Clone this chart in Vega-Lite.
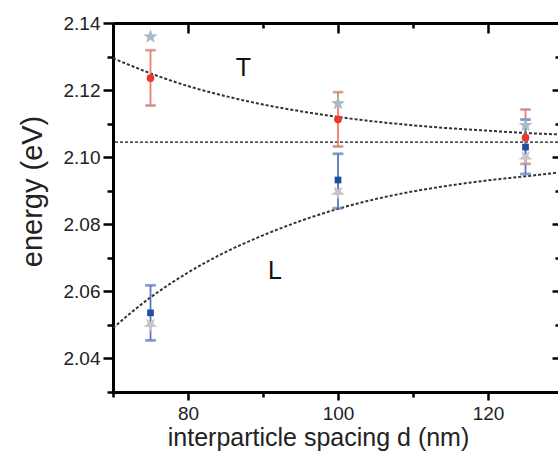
{
  "$schema": "https://vega.github.io/schema/vega-lite/v6.json",
  "autosize": {"type": "none"},
  "padding": {"left": 113, "top": 23, "right": 0, "bottom": 66},
  "width": 445,
  "height": 369,
  "background": "white",
  "config": {
    "view": {"stroke": null},
    "axis": {
      "grid": false,
      "labelFont": "Liberation Sans",
      "titleFont": "Liberation Sans",
      "labelColor": "#222",
      "titleColor": "#222",
      "titleFontWeight": "normal",
      "labelFontSize": 19,
      "domainColor": "#000",
      "domainWidth": 3,
      "tickColor": "#000",
      "tickWidth": 2.5
    }
  },
  "datasets": {
    "curves": [
      {"d": 70, "E": 2.1295, "curve": "T"},
      {"d": 75, "E": 2.1250, "curve": "T"},
      {"d": 80, "E": 2.1212, "curve": "T"},
      {"d": 85, "E": 2.1182, "curve": "T"},
      {"d": 90, "E": 2.1157, "curve": "T"},
      {"d": 95, "E": 2.1137, "curve": "T"},
      {"d": 100, "E": 2.1120, "curve": "T"},
      {"d": 105, "E": 2.1106, "curve": "T"},
      {"d": 110, "E": 2.1095, "curve": "T"},
      {"d": 115, "E": 2.1086, "curve": "T"},
      {"d": 120, "E": 2.1079, "curve": "T"},
      {"d": 125, "E": 2.1072, "curve": "T"},
      {"d": 129.33, "E": 2.1068, "curve": "T"},
      {"d": 70, "E": 2.0491, "curve": "L"},
      {"d": 75, "E": 2.0582, "curve": "L"},
      {"d": 80, "E": 2.0656, "curve": "L"},
      {"d": 85, "E": 2.0717, "curve": "L"},
      {"d": 90, "E": 2.0767, "curve": "L"},
      {"d": 95, "E": 2.0810, "curve": "L"},
      {"d": 100, "E": 2.0846, "curve": "L"},
      {"d": 105, "E": 2.0875, "curve": "L"},
      {"d": 110, "E": 2.0898, "curve": "L"},
      {"d": 115, "E": 2.0916, "curve": "L"},
      {"d": 120, "E": 2.0931, "curve": "L"},
      {"d": 125, "E": 2.0943, "curve": "L"},
      {"d": 129.33, "E": 2.0954, "curve": "L"}
    ],
    "meas": [
      {"d": 75, "E": 2.1236, "lo": 2.1154, "hi": 2.1319, "series": "T"},
      {"d": 100, "E": 2.1113, "lo": 2.1032, "hi": 2.1194, "series": "T"},
      {"d": 125, "E": 2.1058, "lo": 2.0980, "hi": 2.1142, "series": "T"},
      {"d": 75, "E": 2.0536, "lo": 2.0454, "hi": 2.0618, "series": "L"},
      {"d": 100, "E": 2.0932, "lo": 2.0848, "hi": 2.1010, "series": "L"},
      {"d": 125, "E": 2.1030, "lo": 2.0950, "hi": 2.1112, "series": "L"}
    ],
    "sim": [
      {"d": 75, "E": 2.1359, "series": "T sim"},
      {"d": 100, "E": 2.1160, "series": "T sim"},
      {"d": 125, "E": 2.1095, "series": "T sim"},
      {"d": 75, "E": 2.0501, "series": "L sim"},
      {"d": 100, "E": 2.0895, "series": "L sim"},
      {"d": 125, "E": 2.1000, "series": "L sim"}
    ],
    "caps": [
      {"d": 75, "E": 2.1154, "series": "T"},
      {"d": 75, "E": 2.1319, "series": "T"},
      {"d": 100, "E": 2.1032, "series": "T"},
      {"d": 100, "E": 2.1194, "series": "T"},
      {"d": 125, "E": 2.0980, "series": "T"},
      {"d": 125, "E": 2.1142, "series": "T"},
      {"d": 75, "E": 2.0454, "series": "L"},
      {"d": 75, "E": 2.0618, "series": "L"},
      {"d": 100, "E": 2.0848, "series": "L"},
      {"d": 100, "E": 2.1010, "series": "L"},
      {"d": 125, "E": 2.0950, "series": "L"},
      {"d": 125, "E": 2.1112, "series": "L"}
    ],
    "labels": [
      {"d": 87.4, "E": 2.1267, "label": "T"},
      {"d": 91.6, "E": 2.0660, "label": "L"}
    ],
    "ref": [{"E": 2.1045}]
  },
  "resolve": {"axis": {"x": "independent", "y": "independent"}},
  "layer": [
    {
      "data": {"name": "ref"},
      "mark": {"type": "rule", "color": "#555", "strokeWidth": 1.6, "strokeDash": [3, 2]},
      "encoding": {
        "y": {"field": "E", "type": "quantitative", "scale": {"domain": [2.03, 2.14], "nice": false, "zero": false}, "axis": null}
      }
    },
    {
      "data": {"name": "curves"},
      "mark": {"type": "line", "color": "#333", "strokeWidth": 2, "strokeDash": [3, 2], "interpolate": "monotone", "clip": true},
      "encoding": {
        "x": {"field": "d", "type": "quantitative", "scale": {"domain": [70, 129.33], "nice": false, "zero": false},
          "axis": {"orient": "bottom", "values": [80, 100, 120], "format": "d", "tickSize": 8, "labelPadding": 4,
            "title": "interparticle spacing d (nm)", "titleFontSize": 25, "titleX": 205, "titleY": 33, "titleBaseline": "top", "titleAlign": "center"}},
        "y": {"field": "E", "type": "quantitative", "scale": {"domain": [2.03, 2.14], "nice": false, "zero": false},
          "axis": {"orient": "left", "values": [2.04, 2.06, 2.08, 2.1, 2.12, 2.14], "format": ".2f", "tickSize": 10, "labelPadding": 3,
            "title": "energy (eV)", "titleFontSize": 29, "titleX": -95, "titleY": 168, "titleAngle": -90, "titleBaseline": "top", "titleAlign": "center"}},
        "detail": {"field": "curve"}
      }
    },
    {
      "data": {"name": "meas"},
      "mark": {"type": "rule", "strokeWidth": 1.8},
      "encoding": {
        "x": {"field": "d", "type": "quantitative",
          "axis": {"orient": "bottom", "values": [70, 90, 110], "labels": false, "domain": false, "tickSize": 5, "title": null}},
        "y": {"field": "lo", "type": "quantitative",
          "axis": {"orient": "left", "values": [2.03, 2.05, 2.07, 2.09, 2.11, 2.13], "labels": false, "domain": false, "tickSize": 6, "title": null}},
        "y2": {"field": "hi"},
        "stroke": {"field": "series", "type": "nominal", "scale": {"domain": ["T", "L"], "range": ["#f07d6e", "#5b77b6"]}, "legend": null}
      }
    },
    {
      "data": {"name": "caps"},
      "mark": {"type": "tick", "orient": "horizontal", "size": 10, "thickness": 1.8},
      "encoding": {
        "x": {"field": "d", "type": "quantitative",
          "axis": {"orient": "top", "values": [80, 100, 120], "labels": false, "domain": true, "tickSize": -10, "title": null}},
        "y": {"field": "E", "type": "quantitative",
          "axis": {"orient": "right", "values": [2.04, 2.06, 2.08, 2.1, 2.12, 2.14], "labels": false, "domain": false, "tickSize": -6, "title": null}},
        "stroke": {"field": "series", "type": "nominal", "legend": null}
      }
    },
    {
      "data": {"name": "sim"},
      "mark": {"type": "point", "filled": true, "opacity": 1, "size": 220},
      "encoding": {
        "x": {"field": "d", "type": "quantitative", "axis": null},
        "y": {"field": "E", "type": "quantitative", "axis": null},
        "color": {"field": "series", "type": "nominal", "legend": null,
          "scale": {"domain": ["T", "L", "T sim", "L sim"], "range": ["#e8392a", "#1e4fa0", "#a7bbcb", "#c6c6c6"]}},
        "shape": {"field": "series", "type": "nominal", "legend": null,
          "scale": {"domain": ["T", "L", "T sim", "L sim"], "range": ["circle", "square",
            "M0,-1L-0.235,-0.324L-0.951,-0.309L-0.38,0.124L-0.588,0.809L0,0.4L0.588,0.809L0.38,0.124L0.951,-0.309L0.235,-0.324Z",
            "M0,1L-0.235,0.324L-0.951,0.309L-0.38,-0.124L-0.588,-0.809L0,-0.4L0.588,-0.809L0.38,-0.124L0.951,0.309L0.235,0.324Z"]}}
      }
    },
    {
      "data": {"name": "meas"},
      "mark": {"type": "point", "filled": true, "opacity": 1},
      "encoding": {
        "x": {"field": "d", "type": "quantitative",
          "axis": {"orient": "top", "values": [70, 90, 110], "labels": false, "domain": false, "tickSize": -5, "title": null}},
        "y": {"field": "E", "type": "quantitative",
          "axis": {"orient": "right", "values": [2.03, 2.05, 2.07, 2.09, 2.11, 2.13], "labels": false, "domain": false, "tickSize": -3, "title": null}},
        "color": {"field": "series", "type": "nominal", "legend": null},
        "shape": {"field": "series", "type": "nominal", "legend": null},
        "size": {"field": "series", "type": "nominal", "legend": null, "scale": {"domain": ["T", "L"], "range": [60, 45]}}
      }
    },
    {
      "data": {"name": "labels"},
      "mark": {"type": "text", "font": "Liberation Sans", "fontSize": 25, "color": "#111", "baseline": "middle", "align": "center"},
      "encoding": {
        "x": {"field": "d", "type": "quantitative", "axis": null},
        "y": {"field": "E", "type": "quantitative", "axis": null},
        "text": {"field": "label"}
      }
    }
  ]
}
